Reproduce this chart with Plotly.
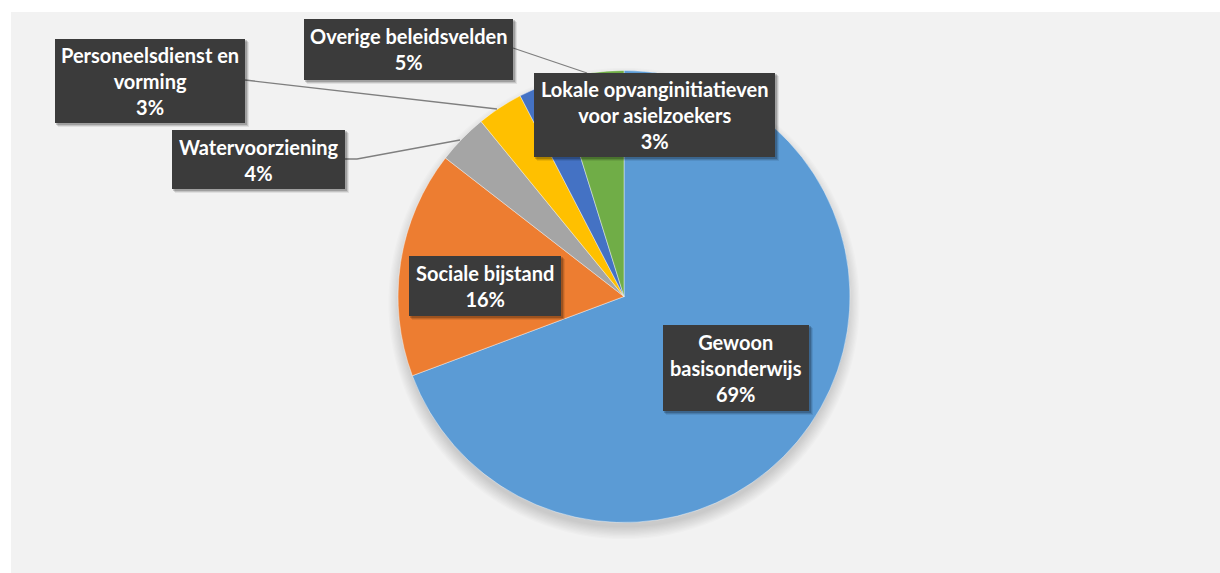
import plotly.graph_objects as go

W, H = 1220, 573

# ---- data ----
categories = [
    "Gewoon basisonderwijs",
    "Sociale bijstand",
    "Watervoorziening",
    "Personeelsdienst en vorming",
    "Lokale opvanginitiatieven voor asielzoekers",
    "Overige beleidsvelden",
]
shares = [69.3, 16.2, 3.6, 3.3, 2.8, 4.8]
label_lines = [
    "Gewoon<br>basisonderwijs",
    "Sociale bijstand",
    "Watervoorziening",
    "Personeelsdienst en<br>vorming",
    "Lokale opvanginitiatieven<br>voor asielzoekers",
    "Overige beleidsvelden",
]
colors = ["#5B9BD5", "#ED7D31", "#A5A5A5", "#FFC000", "#4472C4", "#70AD47"]

# ---- layout geometry (pixels) ----
boxes = [
    (663, 325, 809, 411),
    (409, 256, 561, 316),
    (172, 130, 345, 189),
    (55, 39, 245, 123),
    (534, 73, 775, 157),
    (304, 19, 513, 80),
]
leaders = [
    None,
    None,
    [(345, 159), (357, 159), (460, 140)],
    [(245, 80), (497, 109)],
    None,
    [(513, 48), (587, 73)],
]
CX, CY, R = 624, 296.5, 226


def px(x):
    return x / W


def py(y):
    return 1 - y / H


fig = go.Figure()
fig.add_trace(go.Pie(
    labels=categories,
    values=shares,
    sort=False,
    direction="clockwise",
    rotation=0,
    textinfo="none",
    hoverinfo="skip",
    showlegend=False,
    marker=dict(colors=colors, line=dict(color="rgba(255,255,255,0.7)", width=0.6)),
    domain=dict(x=[px(CX - R), px(CX + R)], y=[py(CY + R), py(CY - R)]),
))

shapes = []
# chart area background
shapes.append(dict(type="rect", xref="paper", yref="paper",
                   x0=px(11), x1=px(1220), y0=py(573), y1=py(12),
                   fillcolor="#F2F2F2", line=dict(width=0), layer="below"))
# soft pie shadow (mostly below)
for i in range(10):
    rr = R - 2 + i * 1.3
    cy = CY + 7
    shapes.append(dict(type="circle", xref="paper", yref="paper",
                       x0=px(CX - rr), x1=px(CX + rr), y0=py(cy + rr), y1=py(cy - rr),
                       fillcolor="rgba(0,0,0,0.016)", line=dict(width=0), layer="below"))
# leader lines
for pts in leaders:
    if not pts:
        continue
    path = "M " + " L ".join(f"{px(x)},{py(y)}" for x, y in pts)
    shapes.append(dict(type="path", xref="paper", yref="paper", path=path,
                       line=dict(color="#7F7F7F", width=1.3), layer="above"))
# box shadows and boxes
for (x0, y0, x1, y1) in boxes:
    for k, op in ((4, 0.08), (3, 0.12), (2, 0.18)):
        shapes.append(dict(type="rect", xref="paper", yref="paper",
                           x0=px(x0 + k - 1), x1=px(x1 + k), y0=py(y1 + k), y1=py(y0 + k - 1),
                           fillcolor=f"rgba(0,0,0,{op})", line=dict(width=0), layer="above"))
for (x0, y0, x1, y1) in boxes:
    shapes.append(dict(type="rect", xref="paper", yref="paper",
                       x0=px(x0), x1=px(x1), y0=py(y1), y1=py(y0),
                       fillcolor="#3B3B3B", line=dict(width=0), layer="above"))

annotations = []
for (x0, y0, x1, y1), lab, v in zip(boxes, label_lines, shares):
    annotations.append(dict(
        xref="paper", yref="paper",
        x=px((x0 + x1) / 2), y=py((y0 + y1) / 2),
        xanchor="center", yanchor="middle",
        text=f"<b>{lab}<br>{round(v)}%</b>",
        showarrow=False,
        font=dict(family="Lato", size=20, color="#FFFFFF"),
        align="center",
    ))

fig.update_layout(
    width=W, height=H,
    margin=dict(l=0, r=0, t=0, b=0),
    paper_bgcolor="#FFFFFF",
    shapes=shapes,
    annotations=annotations,
)

fig.write_html(
    "out.html",
    config={"displayModeBar": False, "staticPlot": True},
    post_script="document.body.style.margin='0';document.body.style.overflow='hidden';",
)
